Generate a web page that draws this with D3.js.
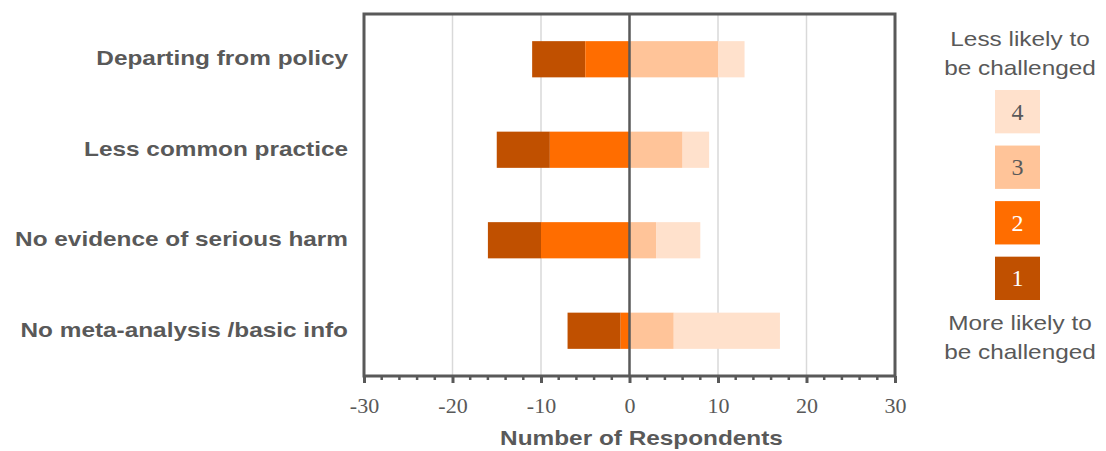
<!DOCTYPE html>
<html><head><meta charset="utf-8">
<script src="https://cdn.jsdelivr.net/npm/d3@7"></script>
<style>body{margin:0;background:#fff}svg{display:block}</style>
</head><body>
<svg id="c" width="1106" height="451"></svg>
<script>
const categories = ["Departing from policy","Less common practice","No evidence of serious harm","No meta-analysis /basic info"];
const level1 = [6, 6, 6, 6];
const level2 = [5, 9, 10, 1];
const level3 = [10, 6, 3, 5];
const level4 = [3, 3, 5, 12];
const tickValues = [-30,-20,-10,0,10,20,30];
const legendLevels = ["4","3","2","1"];
const colors = {"1":"#C05000","2":"#FF6D00","3":"#FFC499","4":"#FFE1CC"};
const gray = "#595959";
const SX = 1.16;
const sans = "Liberation Sans, Arial, sans-serif";
const serif = "Liberation Serif, Times New Roman, serif";

const svg = d3.select("#c");
const L = 364, R = 895, T = 14, B = 376;
const x = d3.scaleLinear().domain([-30,30]).range([L,R]);
const y = d3.scaleBand().domain(categories).range([T,B]).paddingInner(0.6).paddingOuter(0.3);

// gridlines
svg.append("g").selectAll("line").data(tickValues.filter(v=>v!==0 && Math.abs(v)!==30)).join("line")
  .attr("x1",d=>x(d)).attr("x2",d=>x(d)).attr("y1",T).attr("y2",B)
  .attr("stroke","#d9d9d9").attr("stroke-width",1.5);

// bars
const segs = [];
categories.forEach((c,i)=>{
  segs.push({c, lv:"1", x0:-(level1[i]+level2[i]), x1:-level2[i]});
  segs.push({c, lv:"2", x0:-level2[i], x1:0});
  segs.push({c, lv:"3", x0:0, x1:level3[i]});
  segs.push({c, lv:"4", x0:level3[i], x1:level3[i]+level4[i]});
});
svg.append("g").selectAll("rect").data(segs).join("rect")
  .attr("x",d=>x(d.x0)).attr("width",d=>x(d.x1)-x(d.x0))
  .attr("y",d=>y(d.c)).attr("height",y.bandwidth())
  .attr("fill",d=>colors[d.lv]);

// frame
svg.append("rect").attr("x",L).attr("y",T).attr("width",R-L).attr("height",B-T)
  .attr("fill","none").attr("stroke",gray).attr("stroke-width",3);
svg.append("line").attr("x1",x(0)).attr("x2",x(0)).attr("y1",T).attr("y2",B)
  .attr("stroke",gray).attr("stroke-width",2.5);

// x axis
const ax = svg.append("g").attr("transform",`translate(0,${B})`)
  .call(d3.axisBottom(x).tickValues(tickValues).tickSize(7).tickFormat(d=>String(d)));
ax.select(".domain").remove();
ax.selectAll(".tick line").attr("stroke",gray).attr("stroke-width",3);
ax.selectAll(".tick text").attr("fill",gray).attr("font-family",serif)
  .attr("font-size",22).attr("y",37).attr("dy",0);
const minor = d3.range(-30,31,2).filter(v=>v%10!==0);
svg.append("g").selectAll("line").data(minor).join("line")
  .attr("x1",d=>x(d)).attr("x2",d=>x(d)).attr("y1",B).attr("y2",B+4)
  .attr("stroke",gray).attr("stroke-width",2.5);

function sText(g, t, tx, ty, anchor, size, weight){
  return g.append("text").attr("transform",`translate(${tx},${ty}) scale(${SX},1)`)
    .attr("text-anchor",anchor).attr("font-family",sans).attr("font-weight",weight)
    .attr("font-size",size).attr("fill",gray).text(t);
}
sText(svg, "Number of Respondents", x(0)+12, 445, "middle", 21, "bold");

// category labels
const cg = svg.append("g");
categories.forEach(c=>{
  sText(cg, c, 348, y(c)+y.bandwidth()/2+6, "end", 21, "bold");
});

// legend
const lg = svg.append("g");
const lx = 1020;
[["Less likely to",46],["be challenged",75],["More likely to",330],["be challenged",359]].forEach(([t,yy])=>{
  sText(lg, t, lx, yy, "middle", 21, "normal");
});
const ly = d3.scaleBand().domain(legendLevels).range([90,300]).paddingInner(0.22);
lg.selectAll("rect").data(legendLevels).join("rect")
  .attr("x",995).attr("width",45).attr("y",d=>ly(d)).attr("height",ly.bandwidth())
  .attr("fill",d=>colors[d]);
lg.selectAll("text.n").data(legendLevels).join("text").attr("class","n")
  .attr("x",1017.5).attr("y",d=>ly(d)+ly.bandwidth()/2+8)
  .attr("text-anchor","middle").attr("font-family",serif)
  .attr("font-size",24).attr("fill",d=>(d==="1"||d==="2")?"#fff":gray).text(d=>d);
</script>
</body></html>
